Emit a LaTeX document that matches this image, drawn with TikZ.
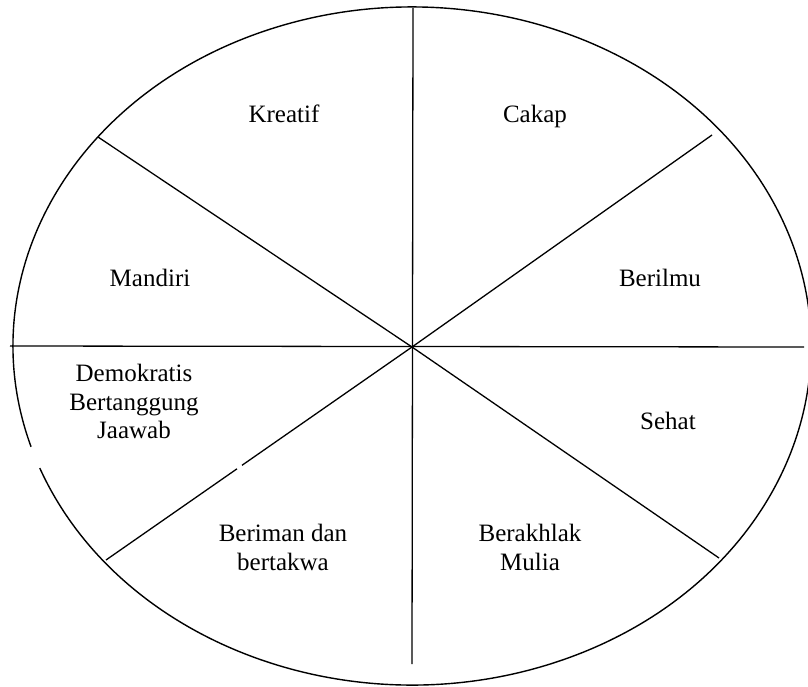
\documentclass[tikz,border=0pt]{standalone}
\usepackage{fontspec}
\setmainfont{Liberation Serif}
\begin{document}
\begin{tikzpicture}[x=1pt,y=-1pt,
  rim/.style={line width=1.4pt},
  spoke/.style={line width=1.3pt},
  lbl/.style={font=\fontsize{25}{28.5}\selectfont, align=center, inner sep=0pt}]
\useasboundingbox (0,0) rectangle (808,686);
% ellipse with small gap on the left
\coordinate (C) at (412,346);
\draw[rim] (C) ++(201.1:399 and -339) arc[start angle=201.1, end angle=557.3, x radius=399, y radius=-339];
% spokes
\coordinate (O) at (412,347);
\coordinate (T) at (413,8);
\coordinate (B) at (412,664);
\coordinate (L) at (10,346);
\coordinate (R) at (804,347);
\coordinate (UL) at (98,137);
\coordinate (UR) at (712,135);
\coordinate (LL) at (106,560);
\coordinate (G1) at (237,468.8);
\coordinate (G2) at (242,465.3);
\coordinate (LR) at (719,558);
\draw[spoke] (T) -- (B);
\draw[spoke] (L) -- (R);
\draw[spoke] (UL) -- (O);
\draw[spoke] (UR) -- (O);
\draw[spoke] (LR) -- (O);
\draw[spoke] (LL) -- (G1);
\draw[spoke] (G2) -- (O);
% labels
\node[lbl, anchor=base] (kreatif) at (284,122) {Kreatif};
\node[lbl, anchor=base] (cakap) at (535,122) {Cakap};
\node[lbl, anchor=base] (mandiri) at (150,286) {Mandiri};
\node[lbl, anchor=base] (berilmu) at (660,286) {Berilmu};
\node[lbl, anchor=base] (sehat) at (668,429) {Sehat};
\node[lbl, anchor=north] (demo) at (134,364) {Demokratis\\Bertanggung\\Jaawab};
\node[lbl, anchor=north] (iman) at (283,524) {Beriman dan\\bertakwa};
\node[lbl, anchor=north] (akhlak) at (530,524) {Berakhlak\\Mulia};
\end{tikzpicture}
\end{document}
